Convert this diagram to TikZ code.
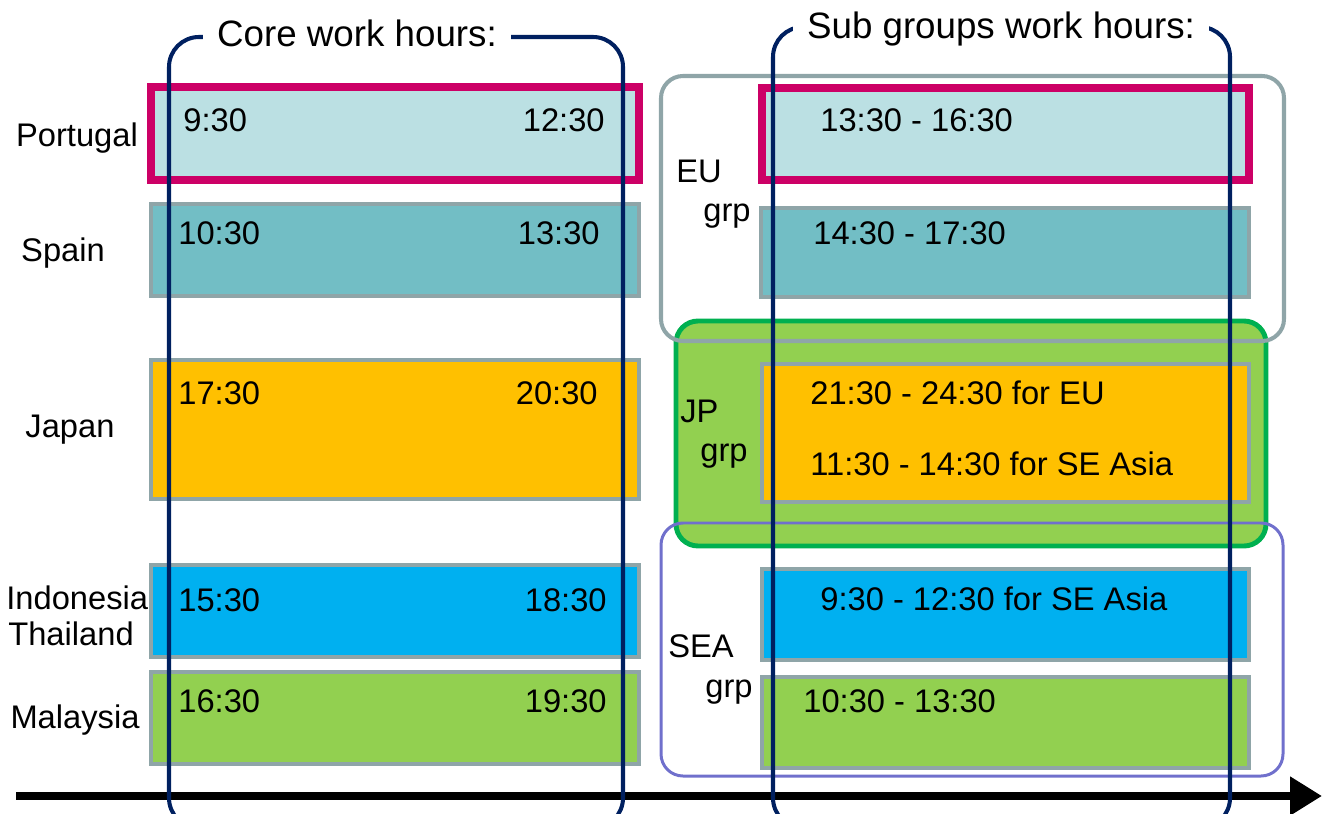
\documentclass[tikz,border=0pt]{standalone}
\usepackage{fontspec}
\setmainfont{Liberation Sans}
\usetikzlibrary{arrows.meta}

\definecolor{ptfill}{HTML}{BBE0E3}
\definecolor{esfill}{HTML}{72BEC5}
\definecolor{jpfill}{HTML}{FFC000}
\definecolor{idfill}{HTML}{00B0F0}
\definecolor{myfill}{HTML}{92D050}
\definecolor{barline}{HTML}{8FA5A8}
\definecolor{mag}{HTML}{CC0066}
\definecolor{navy}{HTML}{002060}
\definecolor{jpline}{HTML}{00B050}
\definecolor{sealine}{HTML}{7070CC}

\tikzset{
	bar/.style={draw=barline, line width=2.2pt},
	hot/.style={draw=mag, line width=4.5pt},
	grpbox/.style={line width=2.3pt, rounded corners=0.44cm},
	bracket/.style={draw=navy, line width=2.3pt, rounded corners=0.6cm},
	txt/.style={font=\fontsize{18.6}{22}\selectfont, inner sep=0pt},
	hdr/.style={font=\fontsize{20.9}{25}\selectfont, fill=white, inner xsep=0.28cm, inner ysep=2pt},
}

\begin{document}
\begin{tikzpicture}[x=0.02cm, y=-0.02cm]
		\useasboundingbox (0,0) rectangle (1325,814);
		
		% core hours, one bar per country
		\begin{scope}
			\draw [bar, fill=ptfill, hot] (151,87) rectangle (639,180);
			\draw [bar, fill=esfill] (151,204) rectangle (639,296);
			\draw [bar, fill=jpfill] (151,360) rectangle (639,499);
			\draw [bar, fill=idfill] (151,565) rectangle (639,657);
			\draw [bar, fill=myfill] (151,672) rectangle (639,764);
		\end{scope}
		
		% sub groups
		\begin{scope}
			\draw [grpbox, draw=jpline, fill=myfill, line width=2.8pt] (676,321) rectangle (1266,546);
			\draw [grpbox, draw=barline] (661,76) rectangle (1284,341);
			\draw [grpbox, draw=sealine, line width=1.7pt] (661,523) rectangle (1283,776);
			
			\draw [bar, fill=ptfill, hot] (762,88) rectangle (1249,180);
			\draw [bar, fill=esfill] (761,208) rectangle (1249,297);
			\draw [bar, fill=jpfill] (762,364) rectangle (1249,502);
			\draw [bar, fill=idfill] (762,569) rectangle (1249,660);
			\draw [bar, fill=myfill] (762,677) rectangle (1249,768);
		\end{scope}
		
		% time axis
		\coordinate (T0) at (16,796);
		\coordinate (T1) at (1322,796);
		\draw [line width=5pt, -{Triangle[length=0.64cm, width=0.74cm]}] (T0) -- (T1);
		
		\draw [bracket] (169,37) rectangle (623,828);
		\draw [bracket] (773,27) rectangle (1230,828);
		\node [hdr, anchor=base] (core) at (357,47) {Core work hours:};
		\node [hdr, anchor=base] (sub) at (1001,39) {Sub groups work hours:};
		
		% countries
		\node [txt, anchor=base] (pt) at (77,147) {Portugal};
		\node [txt, anchor=base] (es) at (63,261) {Spain};
		\node [txt, anchor=base] (jp) at (70,437) {Japan};
		\node [txt, anchor=base west] (id) at (6,609) {Indonesia};
		\node [txt, anchor=base west] (th) at (8,645) {Thailand};
		\node [txt, anchor=base] (my) at (75,728) {Malaysia};
		
		\node [txt, anchor=base west] (pt-a) at (183,132) {9:30};
		\node [txt, anchor=base east] (pt-b) at (605,132) {12:30};
		\node [txt, anchor=base west] (es-a) at (178,245) {10:30};
		\node [txt, anchor=base east] (es-b) at (600,245) {13:30};
		\node [txt, anchor=base west] (jp-a) at (178,404) {17:30};
		\node [txt, anchor=base east] (jp-b) at (598,404) {20:30};
		\node [txt, anchor=base west] (id-a) at (178,611) {15:30};
		\node [txt, anchor=base east] (id-b) at (607,611) {18:30};
		\node [txt, anchor=base west] (my-a) at (178,712) {16:30};
		\node [txt, anchor=base east] (my-b) at (607,712) {19:30};
		
		% groups
		\node [txt, anchor=base west] (eu-g) at (676,183) {EU};
		\node [txt, anchor=base west] (eu-grp) at (703,222) {grp};
		\node [txt, anchor=base west] (jp-g) at (680,422) {JP};
		\node [txt, anchor=base west] (jp-grp) at (700,461) {grp};
		\node [txt, anchor=base west] (sea-g) at (668,657) {SEA};
		\node [txt, anchor=base west] (sea-grp) at (705,697) {grp};
		
		\node [txt, anchor=base west] (pt-s) at (820,132) {13:30 - 16:30};
		\node [txt, anchor=base west] (es-s) at (813,245) {14:30 - 17:30};
		\node [txt, anchor=base west] (jp-s1) at (810,404) {21:30 - 24:30 for EU};
		\node [txt, anchor=base west] (jp-s2) at (810,475) {11:30 - 14:30 for SE Asia};
		\node [txt, anchor=base west] (id-s) at (820,610) {9:30 - 12:30 for SE Asia};
		\node [txt, anchor=base west] (my-s) at (803,712) {10:30 - 13:30};
	\end{tikzpicture}
\end{document}
